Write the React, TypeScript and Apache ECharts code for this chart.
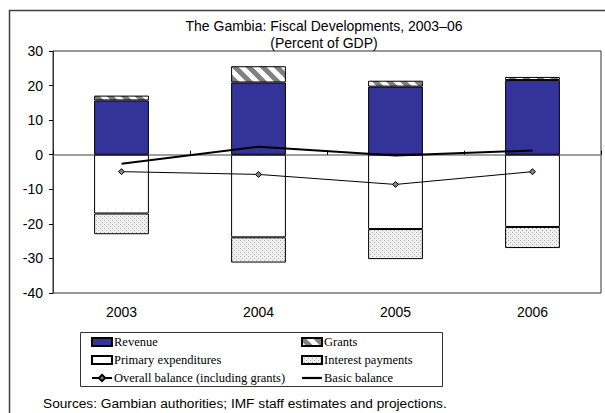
import { useEffect, useRef } from 'react';
import * as echarts from 'echarts';

// Fiscal aggregates, percent of GDP
const years = ['2003', '2004', '2005', '2006'];
const revenue = [15.7, 20.9, 19.7, 21.6];
const grants = [1.4, 4.7, 1.7, 0.9];
const primaryExpenditures = [-17.0, -23.9, -21.5, -20.9];
const interestPayments = [-6.0, -7.3, -8.7, -6.1];
const overallBalance = [-4.9, -5.7, -8.6, -4.9];
const basicBalance = [-2.6, 2.3, -0.2, 1.2];

const Y_MIN = -40;
const Y_MAX = 30;
const Y_STEP = 10;

const SANS = 'Arial, "Liberation Sans", sans-serif';
const SERIF = '"Times New Roman", "Liberation Serif", serif';

// Thick horizontal bar used as the legend key of a plain line
const LINE_KEY = 'path://M0,0M20,8M0,2.9L20,2.9L20,5.1L0,5.1Z';

// Diagonal hatch tile for grants
function hatchTile(size: number): string {
  const c = document.createElement('canvas');
  c.width = size;
  c.height = size;
  const g = c.getContext('2d')!;
  g.fillStyle = '#ffffff';
  g.fillRect(0, 0, size, size);
  g.strokeStyle = '#808080';
  g.lineWidth = size * 0.36;
  for (const o of [-size, 0, size]) {
    g.beginPath();
    g.moveTo(o - 2, -2);
    g.lineTo(o + size + 2, size + 2);
    g.stroke();
  }
  return c.toDataURL();
}

// Fine dotted tile for interest payments
function dotTile(): string {
  const c = document.createElement('canvas');
  c.width = 4;
  c.height = 4;
  const g = c.getContext('2d')!;
  g.fillStyle = '#f0f0f0';
  g.fillRect(0, 0, 4, 4);
  g.fillStyle = '#a8a8a8';
  g.fillRect(0, 0, 1, 1);
  g.fillRect(2, 2, 1, 1);
  return c.toDataURL();
}

export default function App() {
  const ref = useRef<HTMLDivElement>(null);

  useEffect(() => {
    if (!ref.current) return;
    const chart = echarts.init(ref.current, undefined, { renderer: 'svg' });

    const HATCH = 14;
    const hatch = { image: hatchTile(HATCH), repeat: 'repeat', imageWidth: HATCH, imageHeight: HATCH } as any;
    const dots = { image: dotTile(), repeat: 'repeat', imageWidth: 4, imageHeight: 4 } as any;

    const barBase = {
      type: 'bar' as const,
      stack: 'fiscal',
      barWidth: '40%',
      xAxisIndex: 0,
    };

    const legendText = {
      fontFamily: SERIF,
      fontSize: 12.5,
      color: '#000',
      lineHeight: 14,
      padding: [0, 0, 0, -3],
    };

    chart.setOption({
      animation: false,
      backgroundColor: '#ffffff',
      title: {
        text: 'The Gambia: Fiscal Developments, 2003–06\n(Percent of GDP)',
        left: 319,
        top: 13,
        textAlign: 'center',
        textStyle: {
          fontFamily: SANS,
          fontSize: 14,
          fontWeight: 'normal',
          color: '#000',
          lineHeight: 16.5,
        },
      },
      grid: {
        left: 53,
        top: 51,
        right: 4,
        bottom: 120,
        show: true,
        borderColor: '#333',
        borderWidth: 1,
        backgroundColor: 'transparent',
      },
      legend: [
        {
          orient: 'vertical',
          left: 91,
          top: 335,
          padding: 0,
          itemWidth: 20,
          itemHeight: 8,
          itemGap: 4,
          selectedMode: false,
          data: [
            { name: 'Revenue', icon: 'rect' },
            { name: 'Primary expenditures', icon: 'rect' },
            { name: 'Overall balance (including grants)' },
          ],
          textStyle: legendText,
        },
        {
          orient: 'vertical',
          left: 301,
          top: 335,
          padding: 0,
          itemWidth: 20,
          itemHeight: 8,
          itemGap: 4,
          selectedMode: false,
          data: [
            { name: 'Grants', icon: 'rect' },
            { name: 'Interest payments', icon: 'rect' },
            { name: 'Basic balance', icon: LINE_KEY },
          ],
          textStyle: legendText,
        },
      ],
      xAxis: [
        {
          type: 'category',
          data: years,
          position: 'bottom',
          axisLine: { show: false, onZero: false },
          axisTick: { show: false },
          axisLabel: { margin: 12, fontFamily: SANS, fontSize: 14, color: '#000' },
          splitLine: { show: false },
        },
        {
          type: 'category',
          data: years,
          position: 'top',
          axisLine: { show: true, onZero: true, lineStyle: { color: '#808080', width: 1.5 } },
          axisTick: { show: true, inside: false, length: 4, lineStyle: { color: '#000', width: 1 } },
          axisLabel: { show: false },
          splitLine: { show: false },
        },
      ],
      yAxis: {
        type: 'value',
        min: Y_MIN,
        max: Y_MAX,
        interval: Y_STEP,
        axisLine: { show: true, lineStyle: { color: '#333', width: 1 } },
        axisTick: { show: true, length: 4, lineStyle: { color: '#000' } },
        splitLine: { show: false },
        axisLabel: { margin: 10, fontFamily: SANS, fontSize: 14, color: '#000' },
      },
      series: [
        {
          ...barBase,
          name: 'Revenue',
          data: revenue,
          itemStyle: { color: '#333399', borderColor: '#000', borderWidth: 1 },
        },
        {
          ...barBase,
          name: 'Grants',
          data: grants,
          itemStyle: { color: hatch, borderColor: '#000', borderWidth: 1 },
        },
        {
          ...barBase,
          name: 'Primary expenditures',
          data: primaryExpenditures,
          itemStyle: { color: '#ffffff', borderColor: '#000', borderWidth: 1 },
        },
        {
          ...barBase,
          name: 'Interest payments',
          data: interestPayments,
          itemStyle: { color: dots, borderColor: '#000', borderWidth: 1 },
        },
        {
          type: 'line',
          name: 'Overall balance (including grants)',
          data: overallBalance,
          xAxisIndex: 0,
          symbol: 'diamond',
          symbolSize: 6,
          z: 5,
          lineStyle: { color: '#000', width: 1 },
          itemStyle: { color: '#808080', borderColor: '#000', borderWidth: 1 },
        },
        {
          type: 'line',
          name: 'Basic balance',
          data: basicBalance,
          xAxisIndex: 0,
          symbol: 'none',
          z: 5,
          lineStyle: { color: '#000', width: 2 },
          itemStyle: { color: '#000' },
        },
      ],
      graphic: [
        {
          type: 'rect',
          silent: true,
          shape: { x: 9.5, y: 10.5, width: 700, height: 600 },
          style: { fill: 'none', stroke: '#404040', lineWidth: 1.5 },
        },
        {
          type: 'rect',
          silent: true,
          shape: { x: 80.5, y: 332.5, width: 362, height: 54 },
          style: { fill: 'none', stroke: '#333', lineWidth: 1 },
        },
        {
          type: 'text',
          silent: true,
          x: 43,
          y: 403,
          style: {
            text: 'Sources: Gambian authorities; IMF staff estimates and projections.',
            fontFamily: SANS,
            fontSize: 13.7,
            fill: '#000',
            verticalAlign: 'middle',
          },
        },
      ],
    });

    return () => chart.dispose();
  }, []);

  return (
    <div
      ref={ref}
      style={{ position: 'fixed', left: 0, top: 0, width: 605, height: 413 }}
    />
  );
}
